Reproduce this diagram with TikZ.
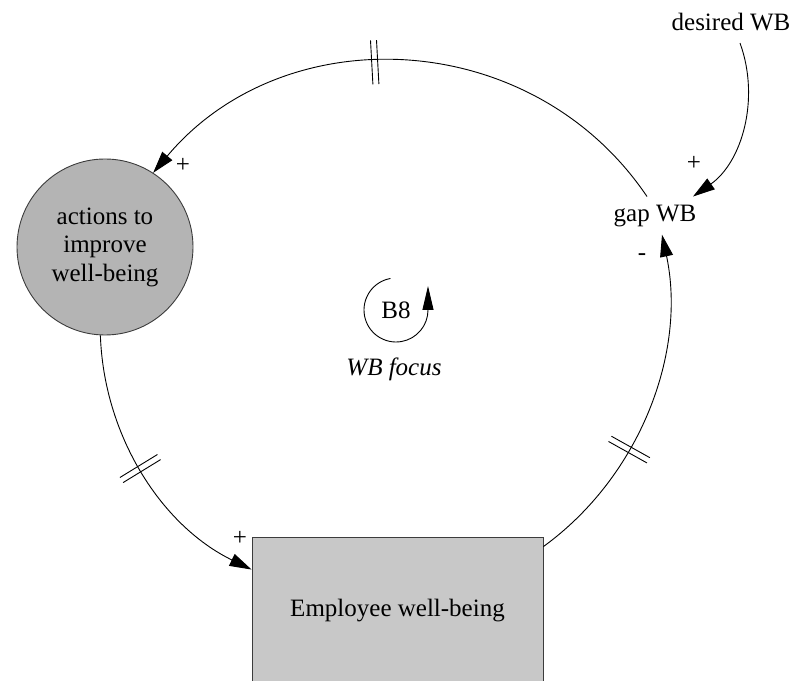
\documentclass[tikz,border=0pt]{standalone}
\usepackage{fontspec}
\setmainfont{Liberation Serif}
\usetikzlibrary{arrows.meta,decorations.markings}
\definecolor{circfill}{RGB}{180,180,180}
\definecolor{rectfill}{RGB}{200,200,200}
\definecolor{edgecol}{RGB}{60,60,60}
\begin{document}
\begin{tikzpicture}[x=1pt,y=1pt,
  every node/.style={font=\fontsize{25}{28.5}\selectfont},
  var/.style={inner xsep=2pt, inner ysep=8pt},
  link/.style={draw=black, line width=0.9pt, -{Triangle[length=22pt,width=13pt]}},
  delaymark/.style={postaction={decorate,decoration={markings,
      mark=at position #1 with {\draw[-, line width=0.9pt] (-3,-22)--(-3,22) (3,-22)--(3,22);}}}},
  pol/.style={inner sep=0pt}
]
\useasboundingbox (0,0) rectangle (795,680);
\clip (0,0) rectangle (795,680);

\node[circle, draw=edgecol, fill=circfill, line width=0.9pt, minimum size=176pt,
      inner sep=0pt, align=center] (act) at (105,433) {actions to\\improve\\well-being};
\node[rectangle, draw=edgecol, fill=rectfill, line width=0.9pt,
      minimum width=291pt, minimum height=148pt] (emp) at (397.5,69) {Employee well-being};
\node[var] (gap) at (655,464.4) {gap WB};
\node[var] (des) at (731,658) {desired WB};
\node[inner sep=0pt] (b8) at (396,370) {B8};
\node[font=\fontsize{25}{28.5}\selectfont\itshape] (foc) at (394,311) {WB focus};

% connectors
\draw[link, delaymark=0.555] ([xshift=-8pt]gap.north) to[out=124,in=50,looseness=1.06] (act.57);
\draw[link] ([xshift=9pt,yshift=-4pt]des.south) to[out=-70,in=35,looseness=0.95] ([xshift=-5.5pt]gap.north east);
\draw[link, delaymark=0.37] ([yshift=-10pt]emp.north east) to[out=36,in=-78,looseness=0.92] ([xshift=7pt]gap.south);
\draw[link, delaymark=0.48] (act.267) to[out=-88,in=154,looseness=0.92] ([yshift=-33pt]emp.north west);

% polarity signs
\node[pol] (p1) at (183,515) {+};
\node[pol] (p2) at (694,517) {+};
\node[pol] (p3) at (642,423) {-};
\node[pol] (p4) at (240,142) {+};

% loop symbol
\draw[line width=0.9pt, -{Triangle[length=24pt,width=11pt]}]
  ([shift={(100:32)}]b8.center) arc[start angle=100, end angle=360, radius=32] -- ++(0,24);
\end{tikzpicture}
\end{document}
